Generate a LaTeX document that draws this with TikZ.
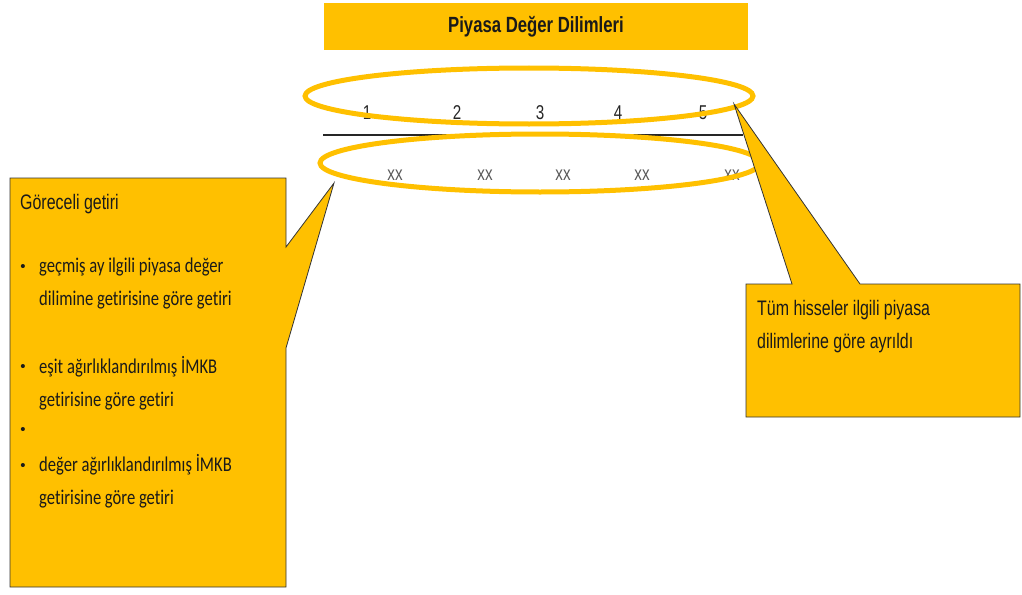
\documentclass[tikz,border=0pt]{standalone}
\usepackage{fontspec}
\setmainfont{Liberation Sans}
\newfontfamily\narrowsans[FakeStretch=0.76]{Liberation Sans}
\newfontfamily\narrowcal[FakeStretch=0.79,Ligatures=NoCommon]{Carlito}
\usepackage{tikz}
\usetikzlibrary{positioning}

\definecolor{gold}{HTML}{FFC000}
\definecolor{darktext}{HTML}{1A1A1A}

\begin{document}
\begin{tikzpicture}[
    x=1pt, y=-1pt,
    titlebox/.style={
        fill=gold,
        minimum width=424pt,
        minimum height=47pt,
        inner sep=0pt,
        font=\narrowsans\bfseries\fontsize{22}{26}\selectfont,
        text=darktext
    },
    ring/.style={
        draw=gold,
        line width=5pt
    },
    callout/.style={
        fill=gold,
        draw=black!80,
        line width=0.8pt,
        line join=miter
    },
    slice/.style={
        font=\narrowsans\fontsize{20}{24}\selectfont,
        text=black!85
    },
    cell/.style={
        font=\narrowsans\fontsize{20}{24}\selectfont,
        text=black!65
    },
    note/.style={
        align=left,
        inner sep=0pt,
        anchor=west,
        text=darktext,
        font=\narrowsans\fontsize{21}{33}\selectfont
    },
    item/.style={
        note,
        font=\narrowcal\fontsize{21}{33}\selectfont
    },
    dot/.style={
        inner sep=0pt,
        text=darktext,
        font=\fontsize{15}{18}\selectfont
    }
]
\useasboundingbox (0,0) rectangle (1022,594);

% title
\node[titlebox] (title) at (536,26.5) {Piyasa Değer Dilimleri};

% slice numbers and values
\node[slice] (s1) at (367,113) {1};
\node[slice] (s2) at (457,113) {2};
\node[slice] (s3) at (540,113) {3};
\node[slice] (s4) at (618,113) {4};
\node[slice] (s5) at (703,113) {5};
\coordinate (ruleleft) at (323,135);
\coordinate (ruleright) at (743,135);
\draw[line width=1.8pt, black!85] (ruleleft) -- (ruleright);
\node[cell] (v1) at (395,175) {xx};
\node[cell] (v2) at (485,175) {xx};
\node[cell] (v3) at (563,175) {xx};
\node[cell] (v4) at (642,175) {xx};
\node[cell] (v5) at (732,175) {xx};

% rings round the rows
\draw[ring] (529,96) ellipse [x radius=224pt, y radius=28pt];
\draw[ring] (540,163) ellipse [x radius=220pt, y radius=29pt];

% left callout
\coordinate (lefttip) at (334,183);
\filldraw[callout] (10,178) -- (286,178) -- (286,247) -- (lefttip)
    -- (286,348) -- (286,587) -- (10,587) -- cycle;
\node[note] (relret) at (20,204) {Göreceli getiri};
\node[dot] (b1) at (23,268) {\textbullet};
\node[item] (i1) at (39,283.5) {geçmiş ay ilgili piyasa değer\\dilimine getirisine göre getiri};
\node[dot] (b2) at (23,368) {\textbullet};
\node[item] (i2) at (39,383.5) {eşit ağırlıklandırılmış İMKB\\getirisine göre getiri};
\node[dot] (b3) at (23,431) {\textbullet};
\node[dot] (b4) at (23,467) {\textbullet};
\node[item] (i3) at (39,481.5) {değer ağırlıklandırılmış İMKB\\getirisine göre getiri};

% right callout
\coordinate (righttip) at (734,104);
\filldraw[callout] (746,284) -- (792,284) -- (righttip) -- (860,284)
    -- (1020,284) -- (1020,417) -- (746,417) -- cycle;
\node[note] (allstocks) at (757,326.5) {Tüm hisseler ilgili piyasa\\dilimlerine göre ayrıldı};
\end{tikzpicture}
\end{document}
